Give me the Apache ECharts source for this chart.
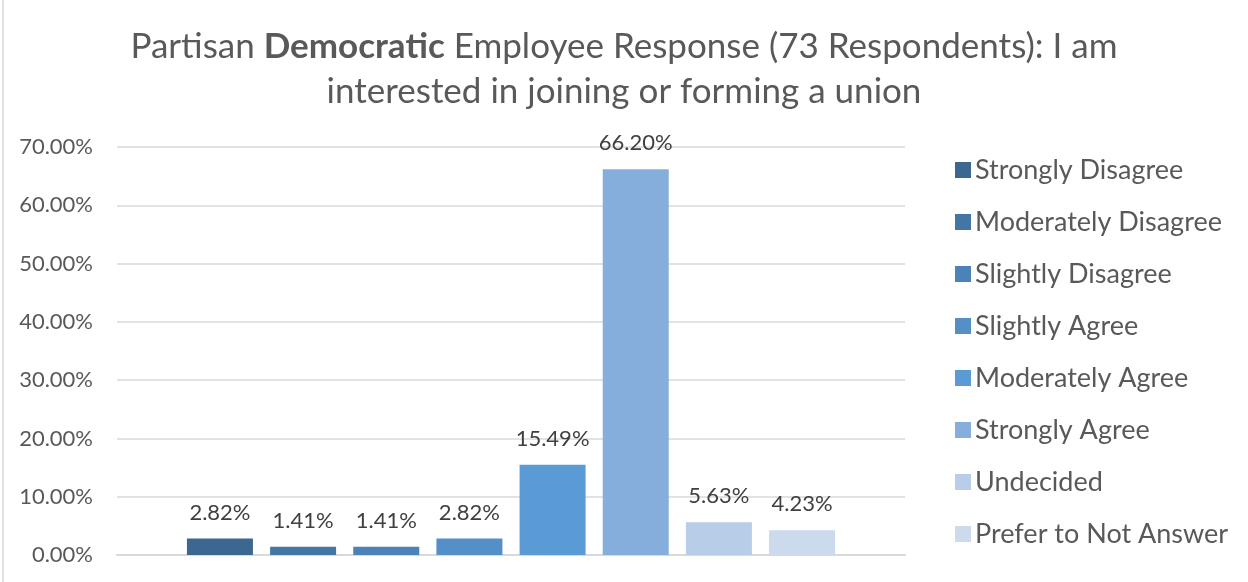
<!DOCTYPE html>
<html>
<head>
<meta charset="utf-8">
<title>Partisan Democratic Employee Response</title>
<script src="https://cdn.jsdelivr.net/npm/echarts@6/dist/echarts.min.js"></script>
<style>
  html, body { margin: 0; padding: 0; background: #ffffff; }
  #chart { width: 1248px; height: 582px; }
</style>
</head>
<body>
<div id="chart"></div>
<script>
// Response options, one bar (and one legend entry) each
const responses = [
  'Strongly Disagree',
  'Moderately Disagree',
  'Slightly Disagree',
  'Slightly Agree',
  'Moderately Agree',
  'Strongly Agree',
  'Undecided',
  'Prefer to Not Answer'
];
// Share of respondents, in percent
const shares = [2.82, 1.41, 1.41, 2.82, 15.49, 66.20, 5.63, 4.23];
// Monochromatic blue palette, dark to light
const palette = ['#3b6790', '#4476a5', '#4b82b7', '#548fc8', '#5b9bd5', '#86aedc', '#b8cde8', '#cbdaed'];
// Value axis ticks (percent)
const yMin = 0, yMax = 70, yStep = 10;

const FONT = 'Lato, "Noto Sans", sans-serif';
const chart = echarts.init(document.getElementById('chart'), null, { renderer: 'canvas' });

const series = responses.map((name, i) => ({
  name: name,
  type: 'bar',
  data: [shares[i]],
  barWidth: 66,
  barGap: '26%',
  itemStyle: { color: palette[i] },
  label: {
    show: true,
    position: 'top',
    distance: 15,
    color: '#404040',
    fontFamily: FONT,
    fontSize: 22,
    formatter: p => p.value.toFixed(2) + '%'
  }
}));

chart.setOption({
  animation: false,
  backgroundColor: '#ffffff',
  title: {
    text: '{n|Partisan }{b|Democratic}{n| Employee Response (73 Respondents): I am}\n{n|interested in joining or forming a union}',
    left: 'center',
    top: 19,
    textStyle: {
      fontWeight: 'normal',
      rich: {
        n: { fontFamily: FONT, fontSize: 35, fontWeight: 'normal', color: '#595959', lineHeight: 45 },
        b: { fontFamily: FONT, fontSize: 35, fontWeight: 'bold', color: '#595959', lineHeight: 45 }
      }
    }
  },
  legend: {
    orient: 'vertical',
    left: 950,
    top: 150,
    itemWidth: 16,
    itemHeight: 16,
    itemGap: 22,
    icon: 'rect',
    textStyle: { fontFamily: FONT, fontSize: 27, color: '#595959', lineHeight: 30, padding: [0, 0, 0, -1] },
    data: responses
  },
  grid: { left: 117, right: 343, top: 147, bottom: 27, containLabel: false },
  xAxis: {
    type: 'category',
    data: [''],
    axisLine: { show: true, lineStyle: { color: '#d9d9d9', width: 2 } },
    axisTick: { show: false },
    axisLabel: { show: false }
  },
  yAxis: {
    type: 'value',
    min: yMin,
    max: yMax,
    interval: yStep,
    axisLine: { show: false },
    axisTick: { show: false },
    splitLine: { lineStyle: { color: '#d9d9d9', width: 1.5 } },
    axisLabel: {
      margin: 24,
      color: '#595959',
      fontFamily: FONT,
      fontSize: 22,
      formatter: v => v.toFixed(2) + '%'
    }
  },
  graphic: [
    { type: 'line', shape: { x1: 3, y1: 0, x2: 3, y2: 582 }, style: { stroke: '#d9d9d9', lineWidth: 1.5 } }
  ],
  series: series
});
</script>
</body>
</html>
